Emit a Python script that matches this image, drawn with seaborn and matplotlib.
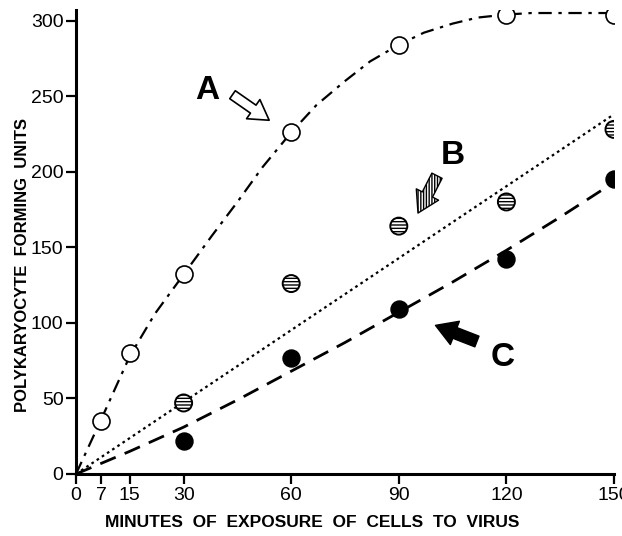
import numpy as np
import pandas as pd
import matplotlib
matplotlib.use("Agg")
import matplotlib.pyplot as plt
import seaborn as sns
from matplotlib.patches import FancyArrowPatch

# ---- data ----
minutes = [7, 15, 30, 60, 90, 120, 150]
a_points = [35, 80, 132, 226, 284, 304, 304]
b_minutes = [30, 60, 90, 120, 150]
b_points = [47, 126, 164, 180, 228]
c_minutes = [30, 60, 90, 120, 150]
c_points = [22, 77, 109, 142, 195]

curve_x = [0, 7, 15, 22, 30, 38, 45, 52, 60, 67, 75, 82, 90, 97, 105, 112, 120, 127, 135, 142, 150]
curve_a = [0, 36, 78, 106, 132, 158, 180, 203, 226, 244, 260, 273, 284, 292, 298, 302, 304, 305, 305, 305, 305]
line_b_x = [0, 150]
line_b = [0, 238]
curve_c_x = [0, 15, 30, 45, 60, 75, 90, 105, 120, 135, 150]
curve_c = [0, 15, 31, 49, 68, 87, 107, 127, 148, 170, 193]

xticks = [0, 7, 15, 30, 60, 90, 120, 150]
yticks = [0, 50, 100, 150, 200, 250, 300]

sns.set_style("ticks")
plt.rcParams["font.family"] = ["Liberation Sans", "DejaVu Sans"]
plt.rcParams["text.color"] = "black"
plt.rcParams["axes.labelcolor"] = "black"

fig = plt.figure(figsize=(6.22, 5.36), dpi=100)
ax = fig.add_axes([76 / 622, 62 / 536, 538 / 622, 464 / 536])

sns.lineplot(x=curve_x, y=curve_a, ax=ax, color="black", lw=1.6,
             estimator=None, sort=False)
ax.lines[-1].set_dashes([6, 3, 1.5, 3])
sns.lineplot(x=line_b_x, y=line_b, ax=ax, color="black", lw=1.6,
             estimator=None, sort=False)
ax.lines[-1].set_dashes([1.2, 1.6])
sns.lineplot(x=curve_c_x, y=curve_c, ax=ax, color="black", lw=2.0,
             estimator=None, sort=False)
ax.lines[-1].set_dashes([6, 3.5])

sns.scatterplot(x=minutes, y=a_points, ax=ax, s=150, facecolor="white",
                edgecolor="black", linewidth=1.2, zorder=5)
ax.scatter(b_minutes, b_points, s=150, facecolor="white",
           edgecolor="black", linewidth=1.4, hatch="-----", zorder=5)
sns.scatterplot(x=c_minutes, y=c_points, ax=ax, s=150, color="black",
                edgecolor="black", linewidth=1.0, zorder=5)

ax.set_xlim(0, 150)
ax.set_ylim(0, 307)
ax.set_xticks(xticks)
ax.set_xticklabels([str(t) for t in xticks])
ax.set_yticks(yticks)
ax.set_yticklabels([str(t) for t in yticks])
ax.tick_params(axis="both", direction="out", length=7, width=1.6,
               labelsize=14, colors="black", pad=2)
for s in ["top", "right"]:
    ax.spines[s].set_visible(False)
for s in ["left", "bottom"]:
    ax.spines[s].set_linewidth(2.2)
    ax.spines[s].set_color("black")

ax.set_xlabel("MINUTES  OF  EXPOSURE  OF  CELLS  TO  VIRUS", fontsize=12.5,
              fontweight="bold")
ax.xaxis.set_label_coords(0.439, -0.088)
ax.set_ylabel("POLYKARYOCYTE  FORMING  UNITS", fontsize=12,
              fontweight="bold")
ax.yaxis.set_label_coords(-0.085, 0.45)

# labels and arrows
ax.text(36.5, 254, "A", fontsize=24, fontweight="heavy", ha="center", va="center")
ax.text(105, 211, "B", fontsize=24, fontweight="heavy", ha="center", va="center")
ax.text(119, 77, "C", fontsize=24, fontweight="heavy", ha="center", va="center")

arrA = FancyArrowPatch((43, 252), (54.5, 233),
                       arrowstyle="simple,head_length=1.0,head_width=1.2,tail_width=0.5",
                       mutation_scale=14, facecolor="white", edgecolor="black", lw=1.2)
ax.add_patch(arrA)
arrB = FancyArrowPatch((101, 199), (95, 171),
                       arrowstyle="simple,head_length=1.0,head_width=1.2,tail_width=0.55",
                       mutation_scale=15, facecolor="white", edgecolor="black",
                       lw=1.0, hatch="||||||")
ax.add_patch(arrB)
arrC = FancyArrowPatch((112.5, 87), (99.5, 99),
                       arrowstyle="simple,head_length=1.0,head_width=1.2,tail_width=0.55",
                       mutation_scale=15, facecolor="black", edgecolor="black", lw=1.0)
ax.add_patch(arrC)

fig.savefig("out.png", dpi=100)
